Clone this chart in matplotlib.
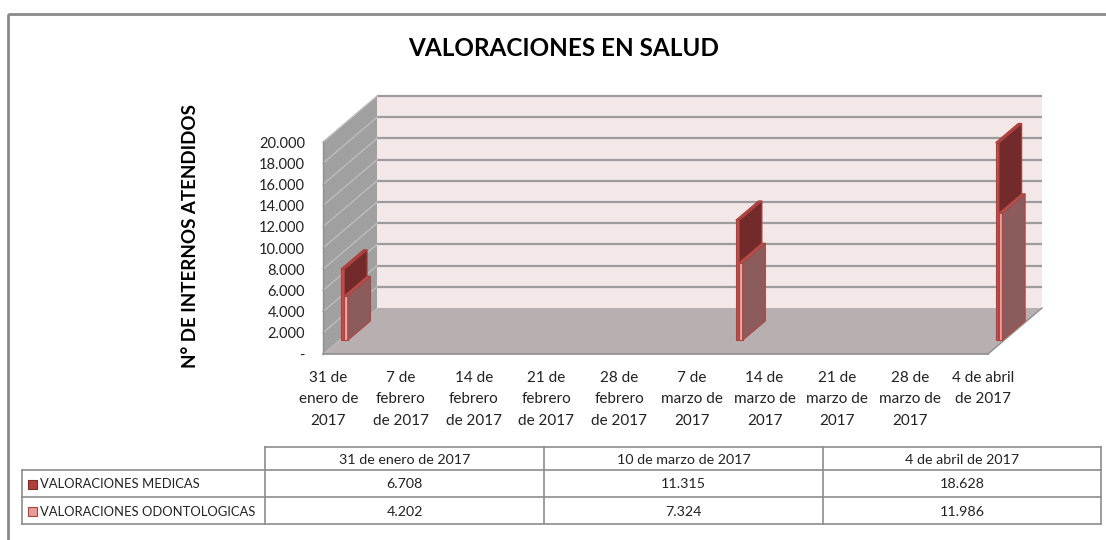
import matplotlib
matplotlib.use("Agg")
import matplotlib.pyplot as plt
from matplotlib.patches import Polygon, Rectangle
import numpy as np
import datetime as dt

plt.rcParams['font.family'] = ['Lato', 'DejaVu Sans']

# ---------------- data ----------------
title = "VALORACIONES EN SALUD"
ylabel = "N° DE INTERNOS ATENDIDOS"
series_names = ["VALORACIONES MEDICAS", "VALORACIONES ODONTOLOGICAS"]
dates = ["2017-01-31", "2017-03-10", "2017-04-04"]
date_labels = ["31 de enero de 2017", "10 de marzo de 2017", "4 de abril de 2017"]
medicas = [6708, 11315, 18628]
odontologicas = [4202, 7324, 11986]
xtick_labels = ["31 de\nenero de\n2017", "7 de\nfebrero\nde 2017", "14 de\nfebrero\nde 2017",
                "21 de\nfebrero\nde 2017", "28 de\nfebrero\nde 2017", "7 de\nmarzo de\n2017",
                "14 de\nmarzo de\n2017", "21 de\nmarzo de\n2017", "28 de\nmarzo de\n2017",
                "4 de abril\nde 2017"]
yticks = [0, 2000, 4000, 6000, 8000, 10000, 12000, 14000, 16000, 18000, 20000]

# ---------------- layout ----------------
W, H = 1106, 540
fig = plt.figure(figsize=(W / 100, H / 100), dpi=100)
fig.patch.set_facecolor('white')

start = dt.date(2017, 1, 31)
day = [(dt.date.fromisoformat(d) - start).days for d in dates]
xmin, xmax = -0.5, 63.5
ymin, ymax = 0, 20000

ax = fig.add_axes([323 / W, 1 - 354 / H, (988 - 323) / W, (354 - 142) / H])
ax.set_xlim(xmin, xmax)
ax.set_ylim(ymin, ymax)
ax.patch.set_visible(False)
for s in ax.spines.values():
    s.set_visible(False)

DX = 54 / ((988 - 323) / (xmax - xmin))   # depth offset in x units
DY = 46 / ((354 - 142) / (ymax - ymin))   # depth offset in y units


def P(x, y, d):
    return (x + d * DX, y + d * DY)


def poly(pts, fc, ec='none', lw=0, z=1):
    ax.add_patch(Polygon(pts, closed=True, facecolor=fc, edgecolor=ec, linewidth=lw,
                         zorder=z, clip_on=False))

# back wall
poly([P(xmin, ymin, 1), P(xmax, ymin, 1), P(xmax, ymax, 1), P(xmin, ymax, 1)], '#F4E7E7', z=1)
for v in yticks[1:]:
    a, b = P(xmin, v, 1), P(xmax, v, 1)
    ax.plot([a[0], b[0]], [a[1], b[1]], color='#9C9C9C', lw=1.6, zorder=2, clip_on=False,
            solid_capstyle='butt')
# left wall
poly([P(xmin, ymin, 0), P(xmin, ymax, 0), P(xmin, ymax, 1), P(xmin, ymin, 1)], '#A0A0A0', z=1)
for v in yticks[1:]:
    a, b = P(xmin, v, 0), P(xmin, v, 1)
    ax.plot([a[0], b[0]], [a[1], b[1]], color='#BDBDBD', lw=1.0, zorder=2, clip_on=False)
# floor
poly([P(xmin, 0, 0), P(xmax, 0, 0), P(xmax, 0, 1), P(xmin, 0, 1)], '#B8AFB0', z=3)
a, b = P(xmin, 0, 0), P(xmax, 0, 0)
ax.plot([a[0], b[0]], [a[1], b[1]], color='#8F8F8F', lw=1.2, zorder=4, clip_on=False)
a, b = P(xmin, 0, 0), P(xmin, ymax, 0)
ax.plot([a[0], b[0]], [a[1], b[1]], color='#8F8F8F', lw=1.0, zorder=4, clip_on=False)
a, b = P(xmax, 0, 0), P(xmax, 0, 1)
ax.plot([a[0], b[0]], [a[1], b[1]], color='#8F8F8F', lw=1.0, zorder=4, clip_on=False)

# bars
w = 0.33
d0, d1 = 0.30, 0.72
styles = [dict(front='#C0504D', side='#722B2A', top='#B2433F', edge='#A8403D'),
          dict(front='#EBA5A3', side='#8C5B5B', top='#B25855', edge='#B04440')]


def box(x0, x1, h, st, z):
    poly([P(x0, 0, d0), P(x1, 0, d0), P(x1, h, d0), P(x0, h, d0)], st['front'], st['edge'], 0.8, z)
    poly([P(x1, 0, d0), P(x1, 0, d1), P(x1, h, d1), P(x1, h, d0)], st['side'], st['edge'], 0.8, z)
    poly([P(x0, h, d0), P(x1, h, d0), P(x1, h, d1), P(x0, h, d1)], st['top'], st['edge'], 0.8, z)


for i, t in enumerate(day):
    box(t - w, t, medicas[i], styles[0], 10 + 2 * i)
    box(t, t + w, odontologicas[i], styles[1], 11 + 2 * i)

# axes ticks
ax.set_yticks(yticks)
ax.set_yticklabels(['-' if v == 0 else f"{v:,.0f}".replace(',', '.') for v in yticks],
                   fontsize=10.5, color='#222222')
ax.tick_params(axis='y', length=0, pad=13)
ax.set_xticks(list(range(0, 64, 7)))
ax.set_xticklabels(xtick_labels, fontsize=11, color='#222222', linespacing=1.7)
ax.tick_params(axis='x', length=0, pad=12)

# title & y label
fig.text(564 / W, 1 - 48 / H, title, ha='center', va='center', fontsize=17.5, fontweight='bold')
fig.text(190 / W, 1 - 236 / H, ylabel, ha='center', va='center', rotation=90,
         fontsize=13.5, fontweight='bold')

# ---------------- overlay: border + data table ----------------
ov = fig.add_axes([0, 0, 1, 1], zorder=-1)
ov.set_xlim(0, W)
ov.set_ylim(H, 0)
ov.axis('off')
ov.add_patch(Rectangle((7.5, 14), W + 10, H + 10, fill=False, edgecolor='#8A8A8A', lw=2))

ov2 = fig.add_axes([0, 0, 1, 1], zorder=5)
ov2.set_xlim(0, W)
ov2.set_ylim(H, 0)
ov2.axis('off')
ov2.patch.set_visible(False)

gc = '#8C8C8C'
col_x = [265, 544, 823, 1101]
row_y = [447, 470, 497, 524]
tl = 22
ov2.plot([col_x[0], col_x[-1]], [row_y[0]] * 2, color=gc, lw=1.2)
for yy in row_y[1:]:
    ov2.plot([tl, col_x[-1]], [yy] * 2, color=gc, lw=1.2)
for xx in col_x:
    ov2.plot([xx] * 2, [row_y[0], row_y[-1]], color=gc, lw=1.2)
ov2.plot([tl] * 2, [row_y[1], row_y[-1]], color=gc, lw=1.2)

for j, lab in enumerate(date_labels):
    ov2.text((col_x[j] + col_x[j + 1]) / 2, (row_y[0] + row_y[1]) / 2 + 1, lab,
             ha='center', va='center', fontsize=10.3, color='#222222')
vals = [medicas, odontologicas]
sq_colors = [('#B0403D', '#7A2A28'), ('#E49C9A', '#A84340')]
for r in range(2):
    yc = (row_y[r + 1] + row_y[r + 2]) / 2 + 1
    ov2.add_patch(Rectangle((28, yc - 5), 9, 9, facecolor=sq_colors[r][0],
                            edgecolor=sq_colors[r][1], lw=0.8))
    ov2.text(40, yc, series_names[r], ha='left', va='center', fontsize=9.4, color='#222222')
    for j in range(3):
        ov2.text((col_x[j] + col_x[j + 1]) / 2, yc, f"{vals[r][j]:,.0f}".replace(',', '.'),
                 ha='center', va='center', fontsize=10.3, color='#222222')

fig.savefig('out.png', dpi=100)
